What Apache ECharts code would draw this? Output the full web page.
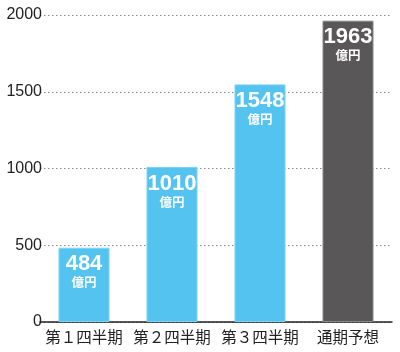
<!DOCTYPE html>
<html>
<head>
<meta charset="utf-8">
<script src="https://cdn.jsdelivr.net/npm/echarts@6/dist/echarts.min.js"></script>
<style>
  html, body { margin: 0; padding: 0; background: #fff; }
  #chart { width: 400px; height: 352px; }
</style>
</head>
<body>
<div id="chart"></div>
<script>
// 四半期ごとの値（億円）
const categories = ['第１四半期', '第２四半期', '第３四半期', '通期予想'];
const values = [484, 1010, 1548, 1963];
const barColors = ['#55c3f0', '#55c3f0', '#55c3f0', '#595757'];
const yTicks = [0, 500, 1000, 1500, 2000];

const chart = echarts.init(document.getElementById('chart'));

chart.setOption({
  animation: false,
  grid: { left: 40, right: 8, top: 15, bottom: 30, outerBoundsMode: 'none' },
  xAxis: {
    type: 'category',
    data: categories,
    axisLine: { lineStyle: { color: '#222', width: 1.5 } },
    axisTick: { show: false },
    axisLabel: {
      color: '#222',
      fontSize: 15.5,
      fontFamily: 'Noto Sans CJK JP',
      margin: 7,
      interval: 0
    }
  },
  yAxis: {
    type: 'value',
    min: yTicks[0],
    max: yTicks[yTicks.length - 1],
    interval: 500,
    axisLine: { show: false },
    axisTick: { show: false },
    axisLabel: {
      color: '#222',
      fontSize: 16,
      fontFamily: 'Liberation Sans',
      margin: -2,
      formatter: v => String(v)
    },
    splitLine: {
      lineStyle: { type: [1.5, 2.5], color: '#888', width: 1 }
    }
  },
  series: [{
    type: 'bar',
    barWidth: 51,
    data: values.map((v, i) => ({
      value: v,
      itemStyle: {
        color: barColors[i],
        borderColor: i === 3 ? '#888' : '#7dd3f5',
        borderWidth: 1
      }
    })),
    label: {
      show: true,
      position: 'insideTop',
      distance: 5,
      formatter: p => '{v|' + p.value + '}\n{u|億円}',
      rich: {
        v: {
          color: '#fff',
          fontSize: 22,
          fontWeight: 'bold',
          fontFamily: 'Liberation Sans',
          lineHeight: 23
        },
        u: {
          color: '#fff',
          fontSize: 12.5,
          fontWeight: 'bold',
          fontFamily: 'Noto Sans CJK JP',
          lineHeight: 14
        }
      }
    }
  }]
});
</script>
</body>
</html>
